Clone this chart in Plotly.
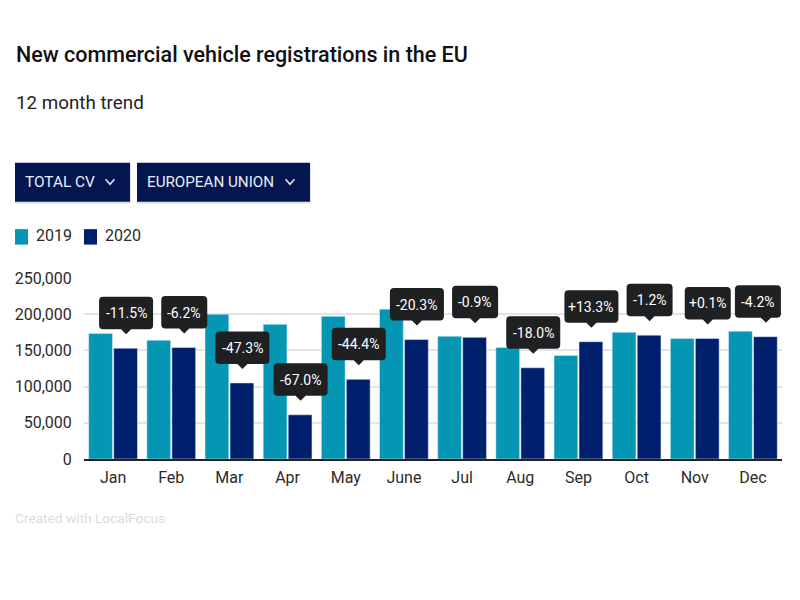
import plotly.graph_objects as go

months = ['Jan', 'Feb', 'Mar', 'Apr', 'May', 'June', 'Jul', 'Aug', 'Sep', 'Oct', 'Nov', 'Dec']
values_2019 = [173500, 164000, 200000, 186000, 197000, 207000, 169500, 154000, 143000, 175000, 166500, 176500]
values_2020 = [153000, 154000, 105000, 61000, 110000, 165000, 168000, 126000, 162000, 171000, 166500, 169000]
changes = ['-11.5%', '-6.2%', '-47.3%', '-67.0%', '-44.4%', '-20.3%', '-0.9%', '-18.0%', '+13.3%', '-1.2%', '+0.1%', '-4.2%']
y_ticks = [0, 50000, 100000, 150000, 200000, 250000]

FONT = 'Roboto'
TEAL = '#0596b3'
NAVY = '#00206e'
BUTTON = '#04164f'
TEXT = '#2b2b2b'
CALLOUT = '#1f2021'

# plot area in page pixels, used to place the page furniture
LEFT, RIGHT, TOP, BOTTOM = 84, 782, 277.5, 459
BAR_OFFSET = 13  # 2020 bar centre, from the category centre


def px(x):
    return (x - LEFT) / (RIGHT - LEFT)


def py(y):
    return (BOTTOM - y) / (BOTTOM - TOP)


def callout_path(label, shift):
    # rounded box with a little pointer, in pixels from the top of the bar
    w = (8 * len(label) + 6) / 2
    p = BAR_OFFSET
    c = p + shift
    b, t, r = 19, 51.5, 4
    return (f'M {p} 14 L {p - 5} {b} L {c - w + r} {b} Q {c - w} {b} {c - w} {b + r} '
            f'L {c - w} {t - r} Q {c - w} {t} {c - w + r} {t} '
            f'L {c + w - r} {t} Q {c + w} {t} {c + w} {t - r} '
            f'L {c + w} {b + r} Q {c + w} {b} {c + w - r} {b} L {p + 5} {b} Z')


def page_text(x, y, text, size, color=TEXT, weight=None):
    # annotations carry about 2px of padding
    fig.add_annotation(
        x=px(x - 2), y=py(y), xref='paper', yref='paper', text=text, showarrow=False,
        xanchor='left', yanchor='middle',
        font=dict(family=FONT, size=size, color=color, weight=weight)
    )


def page_rect(x0, y0, x1, y1, color):
    fig.add_shape(type='rect', xref='paper', yref='paper', x0=px(x0), x1=px(x1),
                  y0=py(y0), y1=py(y1), fillcolor=color, line_width=0, layer='above')


def chevron(x, y):
    fig.add_shape(type='path', xref='paper', yref='paper',
                  path=f'M {px(x - 4.5)} {py(y - 2.5)} L {px(x)} {py(y + 2.5)} L {px(x + 4.5)} {py(y - 2.5)}',
                  line=dict(color='#dfe6f0', width=1.6), layer='above')


fig = go.Figure()
fig.add_trace(go.Bar(x=months, y=values_2019, name='2019', marker_color=TEAL))
fig.add_trace(go.Bar(x=months, y=values_2020, name='2020', marker_color=NAVY))

for month, value, label in zip(months, values_2020, changes):
    # last box is pushed back inside the plot, its pointer stays on the bar
    shift = -8 if month == months[-1] else 0
    fig.add_shape(type='path', xref='x', yref='y', xsizemode='pixel', ysizemode='pixel',
                  xanchor=month, yanchor=value, path=callout_path(label, shift),
                  fillcolor=CALLOUT, line_width=0, layer='above')
    fig.add_annotation(x=month, y=value, text=label, showarrow=False, xshift=BAR_OFFSET + shift, yshift=35,
                       font=dict(family=FONT, size=14, color='white'))

# title block
page_text(16, 53.5, 'New commercial vehicle registrations in the EU', 21.5, '#111111', 500)
page_text(16, 102, '12 month trend', 18.8, '#222222')

# dropdowns
page_rect(15, 163, 131, 203, '#e2e2e2')
page_rect(137, 163, 311, 203, '#e2e2e2')
page_rect(15, 162, 130, 201, BUTTON)
page_rect(137, 162, 310, 201, BUTTON)
page_text(25, 181, 'TOTAL CV', 15.4, '#e8edf5')
page_text(147, 181, 'EUROPEAN UNION', 15.2, '#e8edf5')
chevron(110, 181)
chevron(290, 181)

# legend
page_rect(15, 228.5, 28, 244, TEAL)
page_rect(84, 228.5, 97, 244, NAVY)
page_text(36, 235, '2019', 16)
page_text(105, 235, '2020', 16)

page_text(15, 518, 'Created with LocalFocus', 13.7, '#dcdcdc')

fig.update_layout(
    width=800, height=600,
    margin=dict(l=LEFT, r=800 - RIGHT, t=TOP, b=600 - BOTTOM),
    barmode='group', bargap=0.14, bargroupgap=0.05,
    showlegend=False,
    plot_bgcolor='white', paper_bgcolor='white',
    font=dict(family=FONT, size=16, color=TEXT)
)
# range is fixed, the callout shapes would stretch the autorange
fig.update_xaxes(automargin=False, range=[-0.5, 11.5], showline=True, linecolor='#222222', linewidth=2,
                 showgrid=False, ticks='outside', ticklen=3, tickcolor='rgba(0,0,0,0)',
                 tickfont=dict(family=FONT, size=16, color=TEXT))
fig.update_yaxes(automargin=False, range=[0, 250000], tickvals=y_ticks, tickformat=',d',
                 gridcolor='#e4e4e4', gridwidth=1.5,
                 zeroline=False, ticks='outside', ticklen=8, tickcolor='rgba(0,0,0,0)',
                 tickfont=dict(family=FONT, size=16, color=TEXT))

fig.write_html('out.html', config=dict(displayModeBar=False),
               post_script="document.body.style.margin='0';")
